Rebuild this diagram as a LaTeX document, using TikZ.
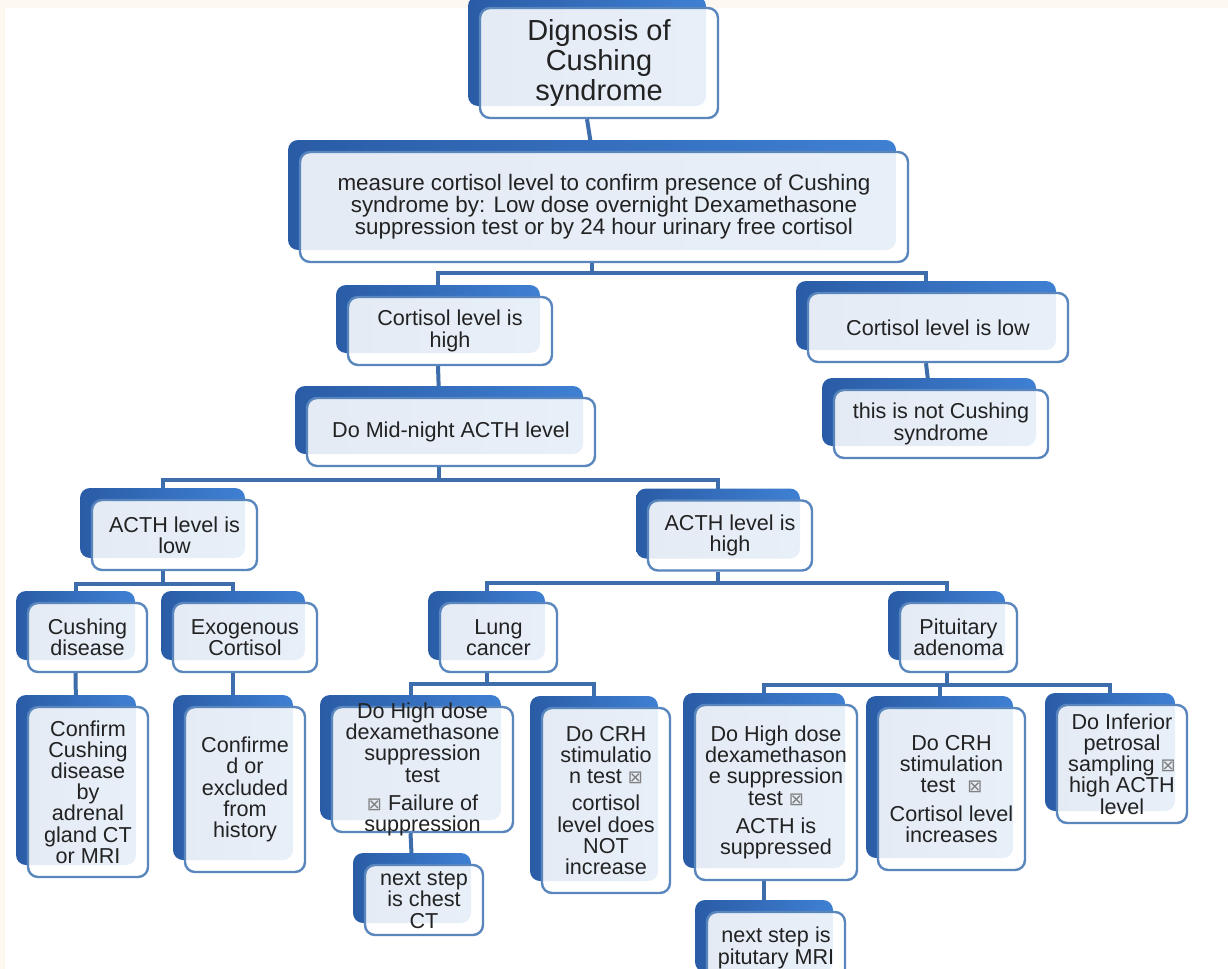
\documentclass[tikz,border=0pt]{standalone}
\usepackage{fontspec}
\setmainfont{Liberation Sans}
\newfontfamily\symfont{DejaVu Sans}
\usetikzlibrary{shadows,backgrounds}

\definecolor{cardblue}{HTML}{3F80D3}
\definecolor{cardblueD}{HTML}{2A5CA6}
\definecolor{cardline}{HTML}{5A86BE}
\definecolor{linkblue}{HTML}{3D6DAA}
\definecolor{paper}{HTML}{FDF9F1}
\definecolor{ink}{HTML}{222222}

\newcommand{\cardfont}{\fontsize{10.8}{10.6}\selectfont}
\newcommand{\nog}{{\symfont\color{black!50}\fontsize{9}{9}\selectfont ⊠}}

\tikzset{
  card/.style={draw=cardline, line width=1.2pt, rounded corners=5pt,
    fill=white, fill opacity=0.88, text opacity=1, text=ink, align=center,
    font=\cardfont, inner sep=0pt,
    general shadow={draw=none, fill opacity=1, left color=cardblueD,
      right color=cardblue, shadow xshift=-6pt, shadow yshift=6pt}},
  cardtext/.style={align=center, font=\cardfont, text=ink, inner sep=0pt},
  link/.style={draw=linkblue, line width=2pt},
}

\begin{document}
\begin{tikzpicture}[x=0.5pt, y=-0.5pt]
\useasboundingbox (0,0) rectangle (1228,969);
% page
\begin{scope}[on background layer]
  \fill[paper] (0,0) rectangle (1228,969);
  \fill[white] (5,8) rectangle (1228,969);
\end{scope}

% top of the tree
\node[card, minimum width=119pt, minimum height=55pt,
  font=\fontsize{14.5}{15}\selectfont] (title) at (599,63) {Dignosis of\\Cushing\\syndrome};
\node[card, minimum width=304pt, minimum height=55pt,
  font=\fontsize{11.2}{11}\selectfont] (meas) at (604,207)
  {measure cortisol level to confirm presence of Cushing\\syndrome by: Low dose overnight Dexamethasone\\suppression test or by 24 hour urinary free cortisol};
\node[card, minimum width=102pt, minimum height=34pt] (chigh) at (450,331) {Cortisol level is\\high};
\node[card, minimum width=130pt, minimum height=34.5pt] (clow) at (938,327.5) {Cortisol level is low};
\node[card, minimum width=107pt, minimum height=34pt] (notcs) at (941,424) {this is not Cushing\\syndrome};
\node[card, minimum width=144pt, minimum height=34pt] (mnacth) at (451,432) {Do Mid-night ACTH level};

% ACTH branches
\node[card, minimum width=82.5pt, minimum height=35pt] (alow) at (174.5,535) {ACTH level is\\low};
\node[card, minimum width=82pt, minimum height=35pt] (ahigh) at (730,535.5) {ACTH level is\\high};
\node[card, minimum width=59.5pt, minimum height=34.5pt] (cdis) at (87.5,637.5) {Cushing\\disease};
\node[card, minimum width=72pt, minimum height=34.5pt] (exo) at (245,637.5) {Exogenous\\Cortisol};
\node[card, minimum width=60pt, minimum height=85pt] (confc) at (88,792) {Confirm\\Cushing\\disease\\by\\adrenal\\gland CT\\or MRI};
\node[card, minimum width=60pt, minimum height=82.5pt] (confe) at (245,789.5) {Confirme\\d or\\excluded\\from\\history};
\node[card, minimum width=58.5pt, minimum height=34.5pt] (lung) at (498.5,637.5) {Lung\\cancer};
\node[card, minimum width=58.5pt, minimum height=34.5pt] (pit) at (958.5,637.5) {Pituitary\\adenoma};

% tests
\node[card, minimum width=90.5pt, minimum height=62.5pt] (hdl) at (422.5,769.5) {};
\node[cardtext] (hdltext) at (hdl) {Do High dose\\dexamethasone\\suppression\\test\\[3.5pt]\nog{} Failure of\\suppression};
\node[card, minimum width=64pt, minimum height=92.5pt] (crhl) at (606,800.5) {Do CRH\\stimulatio\\n test \nog\\[3pt]cortisol\\level does\\NOT\\increase};
\node[card, minimum width=59pt, minimum height=35pt] (chest) at (424,900) {next step\\is chest\\CT};
\node[card, minimum width=81pt, minimum height=87.5pt] (hdp) at (776,792.5) {Do High dose\\dexamethason\\e suppression\\test \nog\\[3.5pt]ACTH is\\suppressed};
\node[card, minimum width=73.5pt, minimum height=81pt] (crhp) at (951.5,789) {Do CRH\\stimulation\\test~~\nog\\[3.5pt]Cortisol level\\increases};
\node[card, minimum width=65pt, minimum height=59pt] (ips) at (1122,764) {Do Inferior\\petrosal\\sampling \nog\\high ACTH\\level};
\node[card, minimum width=69pt, minimum height=36pt] (mri) at (776,948) {next step is\\pitutary MRI};

% connectors
\begin{scope}[on background layer]
  \draw[link] ([xshift=-6pt]title.south) -- ([xshift=-6pt]meas.north);
  \draw[link] ([xshift=-6pt]meas.south) -- ++(0,10) -| ([xshift=-6pt]chigh.north);
  \draw[link] ([xshift=-6pt]meas.south) -- ++(0,10) -| ([xshift=-6pt]clow.north);
  \draw[link] ([xshift=-6pt]clow.south) -- ([xshift=-6pt]notcs.north);
  \draw[link] ([xshift=-6pt]chigh.south) -- ([xshift=-6pt]mnacth.north);
  \draw[link] ([xshift=-6pt]mnacth.south) -- ++(0,13) -| ([xshift=-6pt]alow.north);
  \draw[link] ([xshift=-6pt]mnacth.south) -- ++(0,13) -| ([xshift=-6pt]ahigh.north);
  \draw[link] ([xshift=-6pt]alow.south) -- ++(0,13) -| ([xshift=-6pt]cdis.north);
  \draw[link] ([xshift=-6pt]alow.south) -- ++(0,13) -| ([xshift=-6pt]exo.north);
  \draw[link] ([xshift=-6pt]cdis.south) -- ([xshift=-6pt]confc.north);
  \draw[link] ([xshift=-6pt]exo.south) -- ([xshift=-6pt]confe.north);
  \draw[link] ([xshift=-6pt]ahigh.south) -- ++(0,11) -| ([xshift=-6pt]lung.north);
  \draw[link] ([xshift=-6pt]ahigh.south) -- ++(0,11) -| ([xshift=-6pt]pit.north);
  \draw[link] ([xshift=-6pt]lung.south) -- ++(0,11) -| ([xshift=-6pt]hdl.north);
  \draw[link] ([xshift=-6pt]lung.south) -- ++(0,11) -| ([xshift=-6pt]crhl.north);
  \draw[link] ([xshift=-6pt]hdl.south) -- ([xshift=-6pt]chest.north);
  \draw[link] ([xshift=-6pt]pit.south) -- ++(0,12) -| ([xshift=-6pt]hdp.north);
  \draw[link] ([xshift=-6pt]pit.south) -- ++(0,12) -| ([xshift=-6pt]crhp.north);
  \draw[link] ([xshift=-6pt]pit.south) -- ++(0,12) -| ([xshift=-6pt]ips.north);
  \draw[link] ([xshift=-6pt]hdp.south) -- ([xshift=-6pt]mri.north);
\end{scope}
\end{tikzpicture}
\end{document}
